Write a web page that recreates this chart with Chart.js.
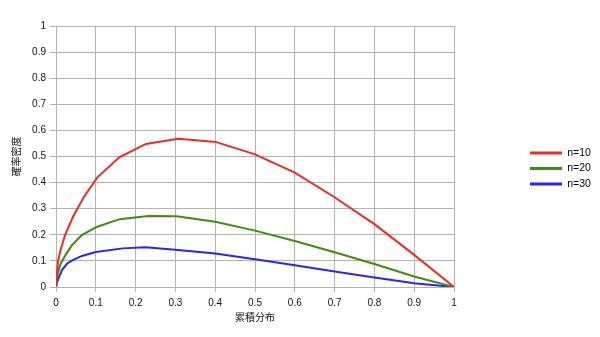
<!DOCTYPE html>
<html>
<head>
<meta charset="utf-8">
<script src="https://cdn.jsdelivr.net/npm/chart.js@4"></script>
<style>
  html, body { margin: 0; padding: 0; background: #fff; }
  #wrap { width: 600px; height: 337px; }
</style>
</head>
<body>
<div id="wrap"><canvas id="c" width="600" height="337"></canvas></div>
<script>
'use strict';

// values (x = 累積分布, y = 確率密度)
const seriesLabels = ['n=10', 'n=20', 'n=30'];

const x10 = [0, 0.005, 0.012, 0.023, 0.043, 0.07, 0.104, 0.159, 0.226, 0.307, 0.401, 0.5, 0.6, 0.7, 0.8, 0.9, 1];
const y10 = [0, 0.1, 0.145, 0.2, 0.27, 0.345, 0.42, 0.497, 0.548, 0.568, 0.556, 0.508, 0.438, 0.344, 0.241, 0.123, 0];

const x20 = [0, 0.004, 0.012, 0.025, 0.04, 0.065, 0.102, 0.16, 0.232, 0.303, 0.4, 0.5, 0.6, 0.7, 0.8, 0.9, 1];
const y20 = [0, 0.05, 0.09, 0.125, 0.16, 0.199, 0.23, 0.26, 0.272, 0.271, 0.25, 0.216, 0.176, 0.133, 0.088, 0.04, 0];

const x30 = [0, 0.003, 0.008, 0.015, 0.028, 0.042, 0.065, 0.1, 0.168, 0.224, 0.3, 0.4, 0.5, 0.6, 0.7, 0.8, 0.9, 1];
const y30 = [0, 0.02, 0.04, 0.065, 0.09, 0.103, 0.119, 0.134, 0.148, 0.152, 0.143, 0.128, 0.106, 0.083, 0.059, 0.036, 0.014, 0];

const COLORS = ['#ec2b25', '#3e8c12', '#2525f4'];
const GRID = '#b3b3b3';
const TEXT = '#111111';

Chart.defaults.font.family = "'Liberation Sans', Arial, 'Noto Sans CJK JP', sans-serif";
Chart.defaults.font.size = 10;
Chart.defaults.color = TEXT;

const toPoints = (xs, ys) => xs.map((x, i) => ({ x, y: ys[i] }));

// legend sits apart on the right, like the spreadsheet export
const LEGEND_WIDTH = 146;
const legendPlacer = {
  id: 'legendPlacer',
  beforeUpdate(chart) {
    const lg = chart.legend;
    if (lg && !lg._fitPatched) {
      const fit = lg.fit;
      lg.fit = function () { fit.call(this); this.width = LEGEND_WIDTH; };
      lg._fitPatched = true;
    }
  },
  afterLayout(chart) {
    const lg = chart.legend;
    if (!lg) return;
    lg.left = 525; lg.right = 600; lg.top = 0; lg.bottom = 337;
  },
};

const datasets = [[x10, y10], [x20, y20], [x30, y30]].map(([xs, ys], i) => ({
  label: seriesLabels[i],
  data: toPoints(xs, ys),
  borderColor: COLORS[i],
  backgroundColor: COLORS[i],
  borderWidth: 2,
  pointRadius: 0,
  showLine: true,
  tension: 0,
}));

const tickFmt = v => String(+v.toFixed(1));

new Chart(document.getElementById('c'), {
  type: 'scatter',
  data: { datasets },
  plugins: [legendPlacer],
  options: {
    responsive: false,
    animation: false,
    layout: { padding: { top: 26, left: 0, right: 0, bottom: 0 } },
    plugins: {
      tooltip: { enabled: false },
      legend: {
        position: 'right',
        labels: {
          boxWidth: 32,
          boxHeight: 3,
          padding: 5,
          font: { size: 10.5 },
          color: TEXT,
          generateLabels: chart => chart.data.datasets.map((ds, i) => ({
            text: ds.label,
            fillStyle: ds.borderColor,
            strokeStyle: ds.borderColor,
            lineWidth: 0,
            hidden: false,
            datasetIndex: i,
          })),
        },
      },
    },
    scales: {
      x: {
        type: 'linear',
        min: 0, max: 1,
        afterFit: s => { s.height = 50; },
        ticks: { stepSize: 0.1, padding: 5, callback: tickFmt, maxRotation: 0, color: TEXT },
        grid: { color: GRID, tickLength: 5, tickColor: GRID },
        border: { color: GRID },
        title: { display: true, text: '累積分布', color: TEXT, font: { size: 10 }, padding: { top: 0, bottom: 13 } },
      },
      y: {
        type: 'linear',
        min: 0, max: 1,
        afterFit: s => { s.width = 56; },
        ticks: { stepSize: 0.1, padding: 4, callback: tickFmt, color: TEXT },
        grid: { color: GRID, tickLength: 6, tickColor: GRID },
        border: { color: GRID },
        title: { display: true, text: '確率密度', color: TEXT, font: { size: 10 }, padding: { top: 11, bottom: 0 } },
      },
    },
  },
});
</script>
</body>
</html>
